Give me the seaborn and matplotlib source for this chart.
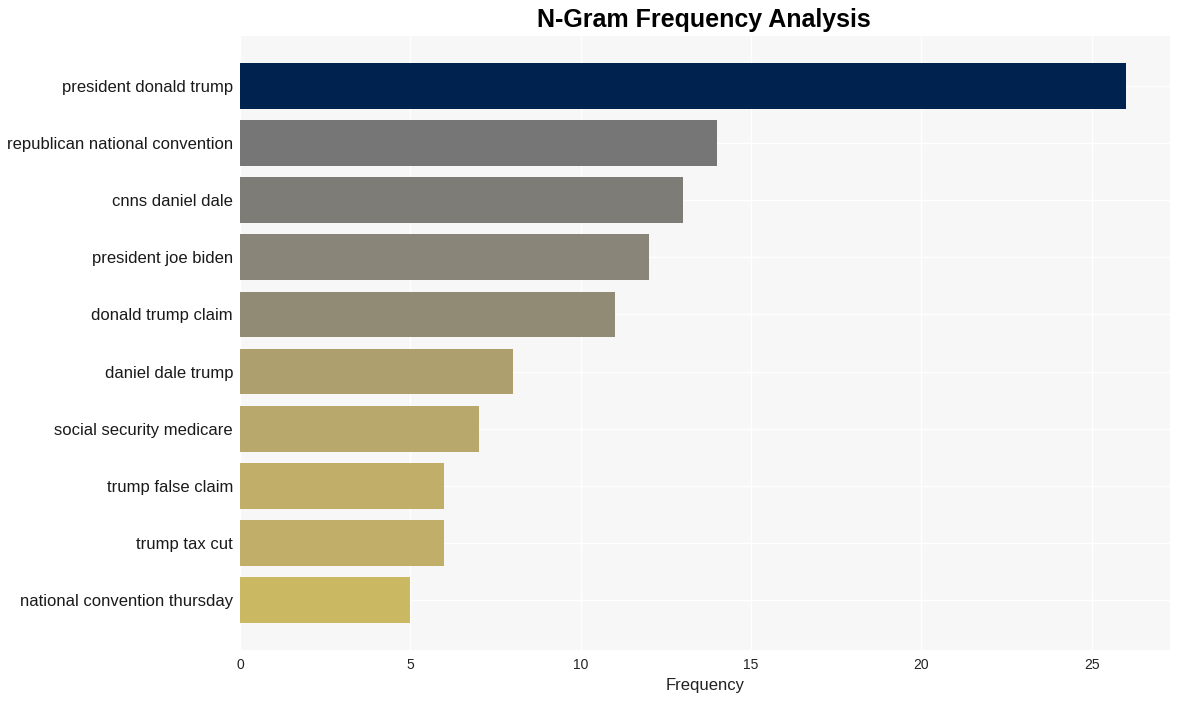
import matplotlib
matplotlib.use("Agg")
import matplotlib.pyplot as plt
import seaborn as sns
import pandas as pd

ngrams = [
    "president donald trump",
    "republican national convention",
    "cnns daniel dale",
    "president joe biden",
    "donald trump claim",
    "daniel dale trump",
    "social security medicare",
    "trump false claim",
    "trump tax cut",
    "national convention thursday",
]
counts = [26, 14, 13, 12, 11, 8, 7, 6, 6, 5]
bar_colors = ["#00224e", "#767676", "#7e7c76", "#898579", "#918a74",
              "#ad9f6e", "#b8a86b", "#c1af69", "#c1af69", "#cbb863"]

df = pd.DataFrame({"ngram": ngrams, "count": counts})

sns.set_theme(style="whitegrid")
plt.rcParams["font.family"] = ["Liberation Sans", "DejaVu Sans"]

fig = plt.figure(figsize=(11.79, 7.01), dpi=100)
ax = fig.add_axes([0.2036, 0.0727, 0.7888, 0.8759])
ax.set_facecolor("#f7f7f7")

sns.barplot(data=df, y="ngram", x="count", hue="ngram", palette=bar_colors,
            legend=False, width=0.8, ax=ax, saturation=1, linewidth=0)

ax.grid(True, color="white", linewidth=1)
ax.set_axisbelow(True)
for s in ax.spines.values():
    s.set_visible(False)
ax.set_ylim(9.87, -0.87)
ax.set_xlim(0, 27.3)
ax.set_ylabel("")
ax.set_xlabel("Frequency", fontsize=12, color="#222222")
ax.tick_params(axis="y", labelsize=12, length=0, pad=5, labelcolor="#1a1a1a")
ax.tick_params(axis="x", labelsize=10, length=0, pad=6, labelcolor="#222222")
fig.suptitle("N-Gram Frequency Analysis", fontsize=18, fontweight="bold",
             x=0.597, y=0.988, color="black")

fig.savefig("out.png", dpi=100)
